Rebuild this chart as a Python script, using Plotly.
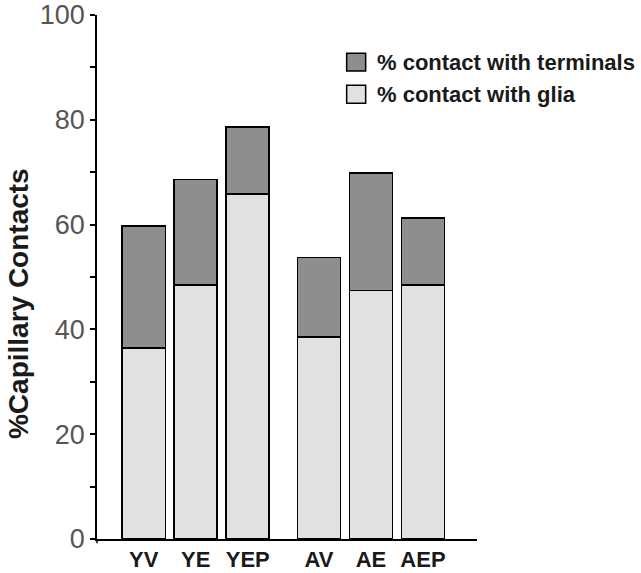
import plotly.graph_objects as go

# --- data ---
groups = ["YV", "YE", "YEP", "AV", "AE", "AEP"]
glia = [36.5, 48.5, 65.9, 38.5, 47.4, 48.5]          # % contact with glia (lower part)
total = [59.8, 68.6, 78.6, 53.7, 69.8, 61.3]         # top of each stacked bar
terminals = [t - g for t, g in zip(total, glia)]      # % contact with terminals (upper part)
series_names = ["% contact with terminals", "% contact with glia"]
y_ticks = [0, 20, 40, 60, 80, 100]

DARK = "#8e8e8e"
LIGHT = "#e1e1e1"
FONT = "Liberation Sans, Arial, Helvetica, sans-serif"

# young / aged groups separated by a wider gap
xpos = [i + (0.37 if i >= 3 else 0) for i in range(len(groups))]

fig = go.Figure()
fig.add_bar(x=xpos, y=glia, name=series_names[1], width=0.83,
            marker=dict(color=LIGHT, line=dict(color="black", width=1.7)))
fig.add_bar(x=xpos, y=terminals, name=series_names[0], width=0.83,
            marker=dict(color=DARK, line=dict(color="black", width=1.7)))

# hand-drawn legend (bigger swatches than plotly's own)
legend_rows = [(series_names[0], DARK, 0.927, 0.893, 0.910),
               (series_names[1], LIGHT, 0.866, 0.8315, 0.849)]
for name, col, top, bot, mid in legend_rows:
    fig.add_shape(type="rect", xref="paper", yref="paper",
                  x0=0.657, x1=0.707, y0=bot, y1=top,
                  fillcolor=col, line=dict(color="black", width=1.5))
    fig.add_annotation(xref="paper", yref="paper", x=0.732, y=mid,
                       text="<b>" + name + "</b>", showarrow=False,
                       xanchor="left", yanchor="middle",
                       font=dict(family=FONT, size=22, color="#1a1a1a"))

fig.add_annotation(xref="paper", yref="paper", x=-0.207, y=0.449,
                   text="<b>%Capillary Contacts</b>", textangle=-90, showarrow=False,
                   xanchor="center", yanchor="middle",
                   font=dict(family=FONT, size=28, color="#1a1a1a"))

# little tick hanging below the origin
fig.add_shape(type="line", xref="paper", yref="y domain", x0=0, x1=0, y0=0, y1=-0.008,
              line=dict(color="black", width=1.5))

fig.update_layout(
    barmode="stack",
    width=641, height=573,
    margin=dict(l=97, r=164, t=15, b=34),
    plot_bgcolor="white", paper_bgcolor="white",
    showlegend=False,
    font=dict(family=FONT),
)
fig.update_xaxes(
    range=[-0.9, 6.41], automargin=False,
    tickvals=xpos, ticktext=["<b>" + g + "</b>" for g in groups],
    tickfont=dict(family=FONT, size=22, color="#1a1a1a"),
    showline=True, linecolor="black", linewidth=1.5,
    ticks="", showgrid=False, zeroline=False,
)
fig.update_yaxes(
    range=[0, 100], tickvals=y_ticks, automargin=False, ticklabeloverflow="allow",
    tickfont=dict(family=FONT, size=27, color="#555555"),
    showline=True, linecolor="black", linewidth=1.5,
    ticks="outside", ticklen=5, tickwidth=1.5, tickcolor="black",
    minor=dict(dtick=10, ticks="outside", ticklen=5, tickwidth=1.5, tickcolor="black"),
    showgrid=False, zeroline=False,
)

# drop the browser's default 8px body margin so the figure fills the window
fig.write_html("out.html", config={"displayModeBar": False},
               post_script="document.body.style.margin='0';")
